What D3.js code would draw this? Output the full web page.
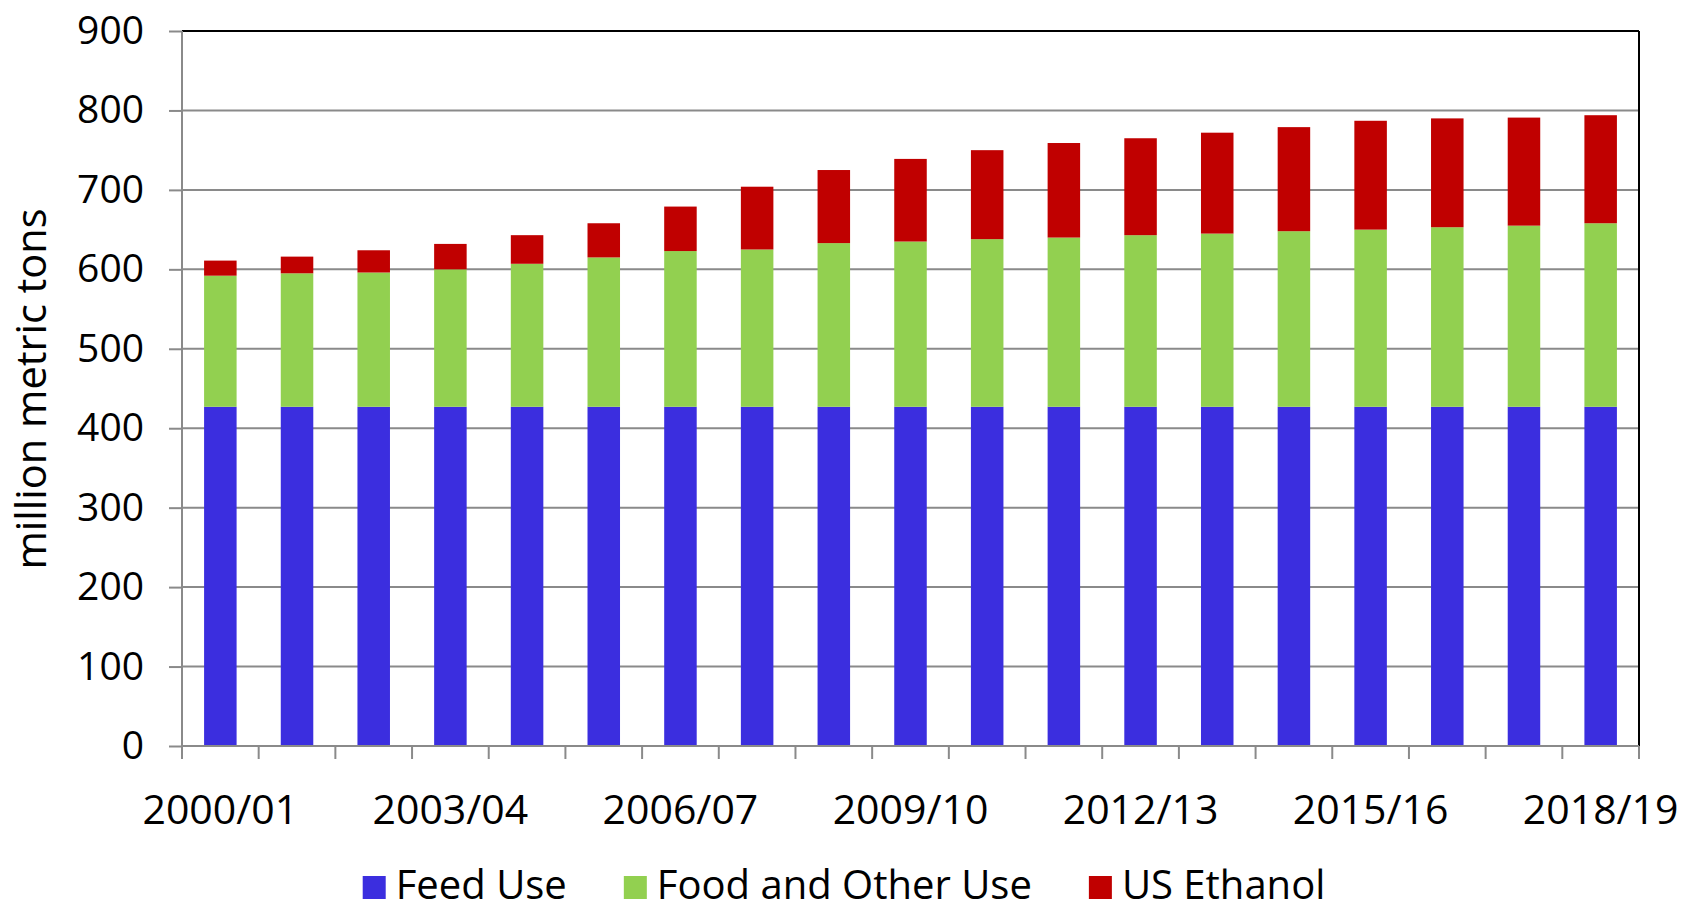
<!DOCTYPE html>
<html>
<head>
<meta charset="utf-8">
<script src="https://cdn.jsdelivr.net/npm/d3@7"></script>
<style>
  html, body { margin: 0; padding: 0; background: #fff; }
  svg { display: block; }
  text { font-family: "Open Sans", "Noto Sans", sans-serif; fill: #000; }
</style>
</head>
<body>
<svg id="chart" width="1683" height="911"></svg>
<script>
// ---- data ----
const categories = ["2000/01","2001/02","2002/03","2003/04","2004/05","2005/06","2006/07","2007/08","2008/09","2009/10","2010/11","2011/12","2012/13","2013/14","2014/15","2015/16","2016/17","2017/18","2018/19"];
const feedUse   = [427,427,427,427,427,427,427,427,427,427,427,427,427,427,427,427,427,427,427];
const foodOther = [165,168,169,173,180,188,196,198,206,208,211,213,216,218,221,223,226,228,231];
const usEthanol = [19,21,28,32,36,43,56,79,92,104,112,119,122,127,131,137,137,136,136];
const yTicks = [0,100,200,300,400,500,600,700,800,900];
const xTickLabels = ["2000/01","2003/04","2006/07","2009/10","2012/13","2015/16","2018/19"];
const seriesNames = ["Feed Use","Food and Other Use","US Ethanol"];
const seriesColors = ["#3B2EDF","#92D050","#C00000"];
const yTitle = "million metric tons";

// ---- layout ----
const pLeft = 182, pRight = 1639, pTop = 31, pBottom = 746;
const svg = d3.select("#chart");

const rows = categories.map((c, i) => ({cat: c, "Feed Use": feedUse[i], "Food and Other Use": foodOther[i], "US Ethanol": usEthanol[i]}));
const stack = d3.stack().keys(seriesNames)(rows);

const x = d3.scaleBand().domain(categories).range([pLeft, pRight]).paddingInner(0.576).paddingOuter(0.288);
const y = d3.scaleLinear().domain([0, 900]).range([pBottom, pTop]);

const gridColor = "#8a8a8a";

// gridlines
svg.append("g").selectAll("line").data(yTicks.filter(d => d > 0 && d < 900)).join("line")
  .attr("x1", pLeft).attr("x2", pRight)
  .attr("y1", d => y(d)).attr("y2", d => y(d))
  .attr("stroke", gridColor).attr("stroke-width", 2);

// bars
const colorScale = d3.scaleOrdinal().domain(seriesNames).range(seriesColors);
svg.append("g").selectAll("g").data(stack).join("g")
  .attr("fill", d => colorScale(d.key))
  .selectAll("rect").data(d => d).join("rect")
  .attr("x", d => x(d.data.cat))
  .attr("width", x.bandwidth())
  .attr("y", d => y(d[1]))
  .attr("height", d => y(d[0]) - y(d[1]));

// plot border (top & right black)
svg.append("line").attr("x1", pLeft).attr("x2", pRight).attr("y1", pTop).attr("y2", pTop)
  .attr("stroke", "#000").attr("stroke-width", 2);
svg.append("line").attr("x1", pRight).attr("x2", pRight).attr("y1", pTop).attr("y2", pBottom)
  .attr("stroke", "#000").attr("stroke-width", 2);

// y axis
const yAxis = d3.axisLeft(y).tickValues(yTicks).tickSize(13).tickPadding(25).tickFormat(d3.format("d"));
const gy = svg.append("g").attr("transform", `translate(${pLeft},0)`).call(yAxis);
gy.select(".domain").attr("stroke", gridColor).attr("stroke-width", 2).attr("d", `M0,${pTop}V${pBottom}`);
gy.selectAll(".tick line").attr("stroke", gridColor).attr("stroke-width", 2);
gy.selectAll(".tick text").style("font-family", "'Open Sans', sans-serif").style("font-size", "39px").attr("fill", "#000");

// x axis (ticks at band boundaries)
const bounds = categories.map(c => x(c) - x.step() * x.paddingInner() / 2).concat([pRight]);
svg.append("line").attr("x1", pLeft).attr("x2", pRight).attr("y1", pBottom).attr("y2", pBottom)
  .attr("stroke", gridColor).attr("stroke-width", 2);
svg.append("g").selectAll("line").data(bounds).join("line")
  .attr("x1", d => d).attr("x2", d => d).attr("y1", pBottom).attr("y2", pBottom + 13)
  .attr("stroke", gridColor).attr("stroke-width", 2);
svg.append("g").selectAll("text").data(xTickLabels).join("text")
  .attr("x", d => x(d) + x.bandwidth() / 2)
  .attr("y", 824)
  .attr("text-anchor", "middle")
  .style("font-size", "41px")
  .text(d => d);

// y title
svg.append("text")
  .attr("transform", "translate(46,389) rotate(-90)")
  .attr("text-anchor", "middle")
  .style("font-size", "41.5px")
  .text(yTitle);

// legend
const lg = svg.append("g");
let cx = 0;
seriesNames.forEach((name, i) => {
  const g = lg.append("g").attr("transform", `translate(${cx},0)`);
  g.append("rect").attr("x", 0).attr("y", 876).attr("width", 23).attr("height", 23).attr("fill", seriesColors[i]);
  const t = g.append("text").attr("x", 33).attr("y", 899).style("font-size", "40px").text(name);
  const w = t.node().getComputedTextLength();
  cx += 33 + w + 57;
});
const totalW = cx - 57;
lg.attr("transform", `translate(${844 - totalW / 2},0)`);
</script>
</body>
</html>
